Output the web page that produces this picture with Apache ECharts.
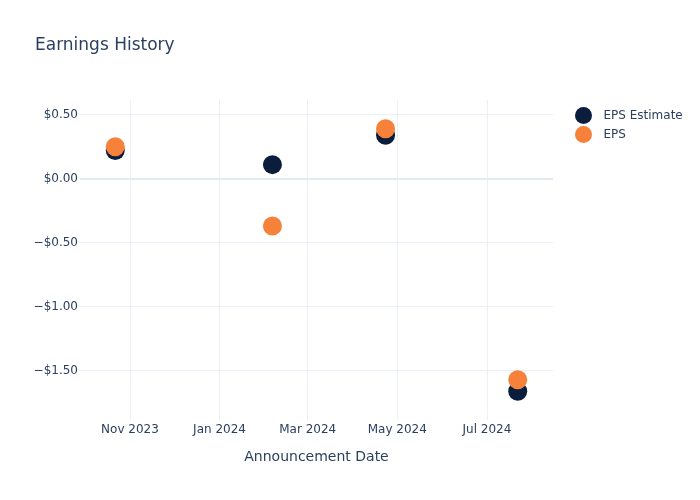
<!DOCTYPE html>
<html>
<head>
<meta charset="utf-8">
<script src="https://cdn.jsdelivr.net/npm/echarts@6/dist/echarts.min.js"></script>
<style>html,body{margin:0;padding:0;background:#fff;}#chart{width:700px;height:500px;}</style>
</head>
<body>
<div id="chart"></div>
<script>
const dates = ['2023-10-22', '2024-02-06', '2024-04-23', '2024-07-22'];
const epsEstimate = [0.22, 0.11, 0.34, -1.66];
const epsActual = [0.25, -0.37, 0.39, -1.57];
const xTicks = ['2023-11-01', '2024-01-01', '2024-03-01', '2024-05-01', '2024-07-01'];
const xTickLabels = ['Nov 2023', 'Jan 2024', 'Mar 2024', 'May 2024', 'Jul 2024'];
const yTicks = [-1.5, -1.0, -0.5, 0, 0.5];
const xRange = ['2023-09-28', '2024-08-15'];
const yRange = [-1.885, 0.615];

const FONT = 'DejaVu Sans';
const TXT = '#2a3f5f';
const ts = d => new Date(d + 'T00:00:00Z').getTime();
const xTickTs = xTicks.map(ts);

function fmtMoney(v) {
  const a = Math.abs(v).toFixed(2);
  return (v < 0 ? '\u2212$' : '$') + a;
}

const chart = echarts.init(document.getElementById('chart'), null, {renderer: 'canvas'});
chart.setOption({
  backgroundColor: '#ffffff',
  animation: false,
  textStyle: {fontFamily: FONT},
  title: {
    text: 'Earnings History',
    left: 30, top: 32,
    textStyle: {fontFamily: FONT, fontSize: 17, fontWeight: 'normal', color: TXT}
  },
  legend: {
    orient: 'vertical',
    left: 570, top: 102,
    itemWidth: 30, itemHeight: 17, itemGap: 2,
    icon: 'circle',
    textStyle: {fontFamily: FONT, fontSize: 12, color: TXT},
    data: ['EPS Estimate', 'EPS']
  },
  grid: {left: 80, right: 147, top: 100, bottom: 80, containLabel: false},
  xAxis: {
    type: 'value',
    min: ts(xRange[0]), max: ts(xRange[1]),
    name: 'Announcement Date',
    nameLocation: 'middle',
    nameGap: 30,
    nameTextStyle: {fontFamily: FONT, fontSize: 14, color: TXT},
    axisLine: {show: false},
    axisTick: {show: false, customValues: xTickTs},
    axisLabel: {
      customValues: xTickTs,
      fontFamily: FONT, fontSize: 12, color: TXT, margin: 4,
      formatter: function (v) {
        const i = xTickTs.indexOf(v);
        return i >= 0 ? xTickLabels[i] : '';
      }
    },
    splitLine: {show: true, lineStyle: {color: '#EBF0F8', width: 1}}
  },
  yAxis: {
    type: 'value',
    min: yRange[0], max: yRange[1],
    axisLine: {show: false},
    axisTick: {show: false, customValues: yTicks},
    axisLabel: {
      customValues: yTicks,
      fontFamily: FONT, fontSize: 12, color: TXT, margin: 2,
      padding: [3, 0, 0, 0],
      formatter: fmtMoney
    },
    splitLine: {show: true, lineStyle: {color: '#EBF0F8', width: 1}}
  },
  series: [
    {
      name: 'EPS Estimate',
      type: 'scatter',
      symbol: 'circle',
      symbolSize: 19,
      itemStyle: {color: '#0b1d3d', opacity: 1},
      data: dates.map((d, i) => [ts(d), epsEstimate[i]]),
      markLine: {
        silent: true, symbol: 'none', label: {show: false},
        lineStyle: {color: '#E4E9F2', width: 2, type: 'solid'},
        data: [{yAxis: 0}],
        z: 1
      },
      z: 3
    },
    {
      name: 'EPS',
      type: 'scatter',
      symbol: 'circle',
      symbolSize: 19,
      itemStyle: {color: '#f5813a', opacity: 1},
      data: dates.map((d, i) => [ts(d), epsActual[i]]),
      z: 4
    }
  ]
});
</script>
</body>
</html>
